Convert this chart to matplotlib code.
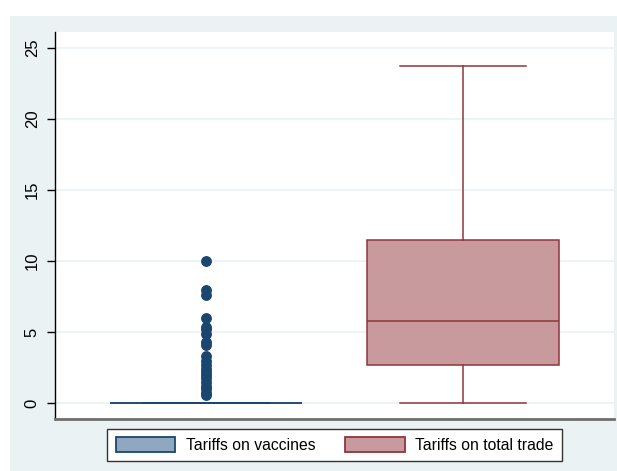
import matplotlib.pyplot as plt
import numpy as np
from matplotlib.patches import Patch, Rectangle

plt.rcParams["font.family"] = ["Liberation Sans", "DejaVu Sans"]

series = ["Tariffs on vaccines", "Tariffs on total trade"]

# box summaries (percent)
vacc_q1, vacc_med, vacc_q3 = 0.0, 0.0, 0.0
vacc_lo, vacc_hi = 0.0, 0.0
vacc_outliers = [10.0, 8.0, 7.6, 6.0, 5.4, 5.2, 4.9, 4.3, 4.1, 3.3, 3.0,
                 2.7, 2.4, 2.2, 2.0, 1.8, 1.5, 1.2, 1.0, 0.7, 0.6]

trade_q1, trade_med, trade_q3 = 2.7, 5.8, 11.45
trade_lo, trade_hi = 0.0, 23.7
trade_outliers = []

yticks = [0, 5, 10, 15, 20, 25]

fills = ["#90a8bf", "#c89a9e"]
edges = ["#1a476f", "#90353b"]

stats = [
    dict(label=series[0], q1=vacc_q1, med=vacc_med, q3=vacc_q3,
         whislo=vacc_lo, whishi=vacc_hi, fliers=vacc_outliers),
    dict(label=series[1], q1=trade_q1, med=trade_med, q3=trade_q3,
         whislo=trade_lo, whishi=trade_hi, fliers=trade_outliers),
]

fig = plt.figure(figsize=(6.17, 4.71), dpi=100, facecolor="white")
# light outer band behind the plot region
bg = fig.add_axes([10 / 617, 0, 607 / 617, 455 / 471], zorder=0)
bg.set_facecolor("#eaf2f3")
bg.axis("off")
bg.add_patch(Rectangle((0, 0), 1, 1, transform=bg.transAxes,
                       facecolor="#eaf2f3", edgecolor="none"))

ax = fig.add_axes([55 / 617, 52 / 471, 559 / 617, 387 / 471], zorder=2)
ax.set_facecolor("white")

for i, st in enumerate(stats):
    ax.bxp([st], positions=[i + 1], widths=0.745, patch_artist=True,
           showfliers=True,
           boxprops=dict(facecolor=fills[i], edgecolor=edges[i], linewidth=1.1),
           medianprops=dict(color=edges[i], linewidth=1.1),
           whiskerprops=dict(color=edges[i], linewidth=1.1),
           capprops=dict(color=edges[i], linewidth=1.1),
           capwidths=0.49,
           flierprops=dict(marker="o", markersize=6.8, markerfacecolor=edges[i],
                           markeredgecolor=edges[i], linestyle="none"),
           zorder=3)

ax.set_xlim(0.4125, 2.5875)
ax.set_ylim(-1.1, 26.1)
ax.set_xticks([])
ax.set_yticks(yticks)
ax.set_yticklabels([str(t) for t in yticks], rotation=90, va="center",
                   fontsize=12)
ax.tick_params(axis="y", length=6, width=1, color="black", pad=5)
ax.grid(axis="y", color="#eaf2f3", linewidth=1.2, zorder=0)
ax.set_axisbelow(True)

for side in ["top", "right"]:
    ax.spines[side].set_visible(False)
ax.spines["left"].set_color("black")
ax.spines["left"].set_linewidth(1)
ax.spines["bottom"].set_color("#6e6e6e")
ax.spines["bottom"].set_linewidth(2)

handles = [Patch(facecolor=fills[i], edgecolor=edges[i], linewidth=1.3,
                 label=series[i]) for i in range(2)]
leg = fig.legend(handles=handles, loc="center", ncol=2,
                 bbox_to_anchor=(334.5 / 617, (471 - 445) / 471),
                 frameon=True, fancybox=False, fontsize=11.3, framealpha=1,
                 handlelength=3.8, handleheight=1.05, columnspacing=1.9,
                 handletextpad=0.65, borderpad=0.55)
leg.set_zorder(5)
leg.get_frame().set_edgecolor("#333333")
leg.get_frame().set_linewidth(1)

fig.savefig("out.png", dpi=100, facecolor=fig.get_facecolor())
